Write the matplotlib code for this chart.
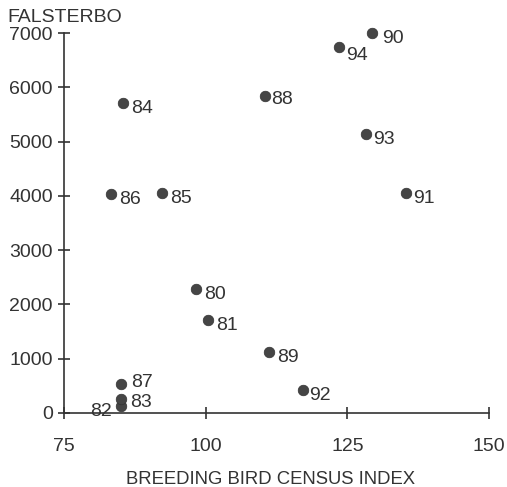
import matplotlib.pyplot as plt

plt.rcParams["font.family"] = ["Liberation Sans", "DejaVu Sans"]

# Breeding bird census index vs. Falsterbo counts, by year
years = ["80", "81", "82", "83", "84", "85", "86", "87",
         "88", "89", "90", "91", "92", "93", "94"]
census_index = [98.3, 100.4, 85.0, 85.0, 85.4, 92.3, 83.3, 85.1,
                110.4, 111.1, 129.4, 135.3, 117.1, 128.3, 123.6]
falsterbo = [2290, 1720, 130, 250, 5720, 4050, 4030, 540,
             5850, 1130, 7000, 4050, 420, 5150, 6740]

# label offsets in points (dx, dy)
label_offsets = {
    "82": (-22, -4), "87": (7, 1), "83": (7, -2), "88": (5, -3),
    "90": (7, -4), "94": (5, -6), "93": (5, -4), "91": (5, -4),
    "92": (5, -4),
}

text_color = "#333333"
dot_color = "#454545"

fig = plt.figure(figsize=(5.07, 4.87), dpi=100)
ax = fig.add_axes([0.1262, 0.152, 0.8383, 0.780])

ax.scatter(census_index, falsterbo, s=58, color=dot_color, zorder=3,
           edgecolors="#333333", linewidths=0.5, clip_on=False)

for yr, x, y in zip(years, census_index, falsterbo):
    dx, dy = label_offsets.get(yr, (6, -4))
    ax.annotate(yr, (x, y), xytext=(dx, dy), textcoords="offset points",
                fontsize=14, color=text_color, va="center", ha="left")

ax.set_xlim(75, 150)
ax.set_ylim(0, 7000)
ax.set_xticks([75, 100, 125, 150])
ax.set_yticks(range(0, 7001, 1000))

for side in ["top", "right"]:
    ax.spines[side].set_visible(False)
for side in ["left", "bottom"]:
    ax.spines[side].set_color(text_color)
    ax.spines[side].set_linewidth(1.2)

ax.tick_params(axis="both", direction="inout", length=8, width=1.2,
               color=text_color, labelcolor=text_color, labelsize=14)
ax.tick_params(axis="x", pad=14)
ax.tick_params(axis="y", pad=4)

fig.text(0.014, 0.965, "FALSTERBO", fontsize=14, color=text_color,
         ha="left", va="center")
fig.text(0.533, 0.007, "BREEDING BIRD CENSUS INDEX", fontsize=13.3,
         color=text_color, ha="center", va="baseline")

fig.savefig("out.png", dpi=100)
